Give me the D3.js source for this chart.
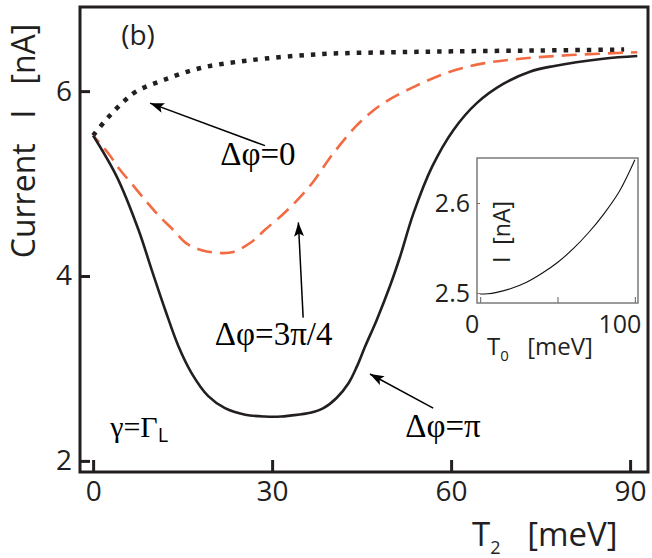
<!DOCTYPE html>
<html><head><meta charset="utf-8">
<script src="https://cdn.jsdelivr.net/npm/d3@7"></script>
<style>
html,body{margin:0;padding:0;background:#fff;}
svg{display:block;}
.sans{font-family:"Open Sans","Liberation Sans",sans-serif;}
.serif{font-family:"Liberation Serif","DejaVu Serif",serif;}
</style></head><body>
<svg id="c" width="652" height="558"></svg>
<script>
// ---- data ----
const xTicks = [0, 30, 60, 90];
const yTicks = [2, 4, 6];
// Δφ = 0 (dotted)
const t2Zero = [0, 2.3, 5, 7.3, 11.8, 18, 25.8, 38, 50, 60.3, 75, 89];
const iZero  = [5.52, 5.70, 5.88, 6.0, 6.12, 6.25, 6.33, 6.40, 6.42, 6.43, 6.44, 6.45];
// Δφ = 3π/4 (dashed)
const t2Q = [0, 2.5, 4.5, 6.7, 9.0, 10.9, 13.4, 15.7, 18.2, 21.0, 23.5, 26.6, 28.8, 31.5, 33.9, 36.9, 39.7, 43.9, 46.4, 48.9, 54.2, 59.8, 65.4, 71.6, 80, 91.2];
const iQ  = [5.52, 5.33, 5.15, 4.98, 4.80, 4.66, 4.50, 4.35, 4.28, 4.25, 4.26, 4.37, 4.50, 4.65, 4.80, 5.02, 5.28, 5.61, 5.76, 5.88, 6.06, 6.21, 6.30, 6.35, 6.39, 6.42];
// Δφ = π (solid)
const t2Pi = [0, 4, 7.6, 9.8, 12.1, 14.3, 16.5, 19.3, 22.1, 25.5, 28.8, 31.5, 33.0, 36.4, 38.6, 40.8, 42.8, 44.2, 45.6, 47.5, 49.8, 51.4, 53.7, 56.8, 60.4, 64.3, 68.8, 73.2, 77.1, 85.5, 91.2];
const iPi  = [5.52, 5.07, 4.50, 4.07, 3.63, 3.24, 2.95, 2.70, 2.57, 2.50, 2.48, 2.48, 2.49, 2.52, 2.57, 2.68, 2.84, 3.02, 3.24, 3.52, 3.90, 4.20, 4.68, 5.18, 5.58, 5.87, 6.08, 6.21, 6.27, 6.35, 6.38];
// inset
const insetXTicks = [0, 50, 100];
const insetXLabels = [0, 100];
const insetYTicks = [2.5, 2.6];
const t0 = [0, 5, 10, 20, 30, 40, 50, 60, 70, 80, 90, 100];
const iT0 = [2.499, 2.4993, 2.5005, 2.505, 2.512, 2.522, 2.534, 2.549, 2.567, 2.588, 2.613, 2.648];

const ink = "#231f20", orange = "#f26b43";
const svg = d3.select("#c");

// ---- main scales ----
const x = d3.scaleLinear().domain([-2.2, 93]).range([80, 648]);
const y = d3.scaleLinear().domain([1.88, 6.91]).range([472, 7]);

// axes
const gy = svg.append("g").attr("transform", `translate(80,0)`)
  .call(d3.axisLeft(y).tickValues(yTicks).tickFormat(d3.format("d")).tickSize(-10).tickSizeOuter(0).tickPadding(8));
const gx = svg.append("g").attr("transform", `translate(0,472)`)
  .call(d3.axisBottom(x).tickValues(xTicks).tickFormat(d3.format("d")).tickSize(-12).tickSizeOuter(0).tickPadding(9));
[gx, gy].forEach(g => {
  g.select(".domain").remove();
  g.selectAll(".tick line").attr("stroke", ink).attr("stroke-width", 3);
  g.selectAll(".tick text").attr("class", "sans").attr("fill", ink).style("font-size", "28px");
});
// frame
svg.append("rect").attr("x", 80).attr("y", 7).attr("width", 568).attr("height", 465)
  .attr("fill", "none").attr("stroke", ink).attr("stroke-width", 3);

// lines
const line = (xs, ys) => d3.line().x((d, i) => x(xs[i])).y(d => y(d)).curve(d3.curveCatmullRom.alpha(0.5))(ys);
svg.append("path").attr("d", line(t2Zero, iZero)).attr("fill", "none").attr("stroke", ink)
  .attr("stroke-width", 4.5).attr("stroke-dasharray", "4.5,7");
svg.append("path").attr("d", line(t2Q, iQ)).attr("fill", "none").attr("stroke", orange)
  .attr("stroke-width", 2.6).attr("stroke-dasharray", "15,8").attr("stroke-dashoffset", 6);
svg.append("path").attr("d", line(t2Pi, iPi)).attr("fill", "none").attr("stroke", ink)
  .attr("stroke-width", 2.6);

// arrow marker
svg.append("defs").append("marker").attr("id", "ah").attr("viewBox", "0 0 14 10")
  .attr("refX", 14).attr("refY", 5).attr("markerWidth", 14).attr("markerHeight", 10)
  .attr("markerUnits", "userSpaceOnUse").attr("orient", "auto")
  .append("path").attr("d", "M0,0 L14,5 L0,10 L3,5 Z").attr("fill", "#000");

const arrows = [
  {from: [28.8, 5.41], to: [9.55, 5.87]},
  {from: [35.2, 3.55], to: [34.4, 4.58]},
  {from: [57.0, 2.57], to: [46.4, 2.94]},
];
arrows.forEach(a => svg.append("line")
  .attr("x1", x(a.from[0])).attr("y1", y(a.from[1]))
  .attr("x2", x(a.to[0])).attr("y2", y(a.to[1]))
  .attr("stroke", "#000").attr("stroke-width", 1.5).attr("marker-end", "url(#ah)"));

const labels = [
  {t: "Δφ=0", at: [21.3, 5.2]},
  {t: "Δφ=3π/4", at: [20.4, 3.25]},
  {t: "Δφ=π", at: [52.3, 2.26]},
];
labels.forEach(l => svg.append("text").attr("class", "serif")
  .attr("x", x(l.at[0])).attr("y", y(l.at[1])).attr("fill", "#000")
  .style("font-size", "33px").text(l.t));

const gam = svg.append("text").attr("class", "serif").attr("x", x(2.85)).attr("y", y(2.26))
  .attr("fill", "#000").style("font-size", "30px");
gam.append("tspan").text("γ=Γ");
gam.append("tspan").attr("dy", 5).style("font-size", "20px").attr("class", "sans").text("L");

svg.append("text").attr("class", "sans").attr("x", x(4.7)).attr("y", y(6.5))
  .attr("fill", ink).style("font-size", "28px").text("(b)");

// axis titles
svg.append("text").attr("class", "sans").attr("fill", ink)
  .attr("transform", "translate(35,141) rotate(-90)").attr("text-anchor", "middle")
  .style("font-size", "32px").style("white-space", "pre").text("Current   I   [nA]");
const xl = svg.append("text").attr("class", "sans").attr("fill", ink).attr("x", 472).attr("y", 546)
  .style("font-size", "33px").style("white-space", "pre");
xl.append("tspan").text("T");
xl.append("tspan").attr("dy", 8).style("font-size", "18px").text("2");
xl.append("tspan").attr("dy", -8).attr("dx", 1).text("   [meV]");

// ---- inset ----
const ix = d3.scaleLinear().domain([-2, 102]).range([477, 638]);
const iy = d3.scaleLinear().domain([2.489, 2.65]).range([303, 158]);
const gray = "#7a7a7a";
svg.append("rect").attr("x", 477).attr("y", 158).attr("width", 161).attr("height", 145)
  .attr("fill", "#fff").attr("stroke", gray).attr("stroke-width", 1.5);
const igx = svg.append("g").attr("transform", "translate(0,303)")
  .call(d3.axisBottom(ix).tickValues(insetXTicks).tickSize(-6).tickSizeOuter(0).tickFormat(""));
igx.select(".domain").remove();
igx.selectAll(".tick line").attr("stroke", gray).attr("stroke-width", 1.2);
svg.append("g").selectAll("text").data(insetXLabels).join("text").attr("class", "sans")
  .attr("x", d => ix(d) - (d === 0 ? 8 : 15)).attr("y", 333).attr("text-anchor", "middle")
  .attr("fill", ink).style("font-size", "25px").text(d => d);
const igy = svg.append("g").attr("transform", "translate(477,0)")
  .call(d3.axisLeft(iy).tickValues(insetYTicks).tickSize(-3).tickSizeOuter(0).tickPadding(7).tickFormat(d3.format(".1f")));
igy.select(".domain").remove();
igy.selectAll(".tick line").attr("stroke", "#c0504d").attr("stroke-width", 1);
igy.selectAll(".tick text").attr("class", "sans").attr("fill", ink).style("font-size", "25px");
svg.append("path").attr("d", d3.line().x((d, i) => ix(t0[i])).y(d => iy(d)).curve(d3.curveCatmullRom.alpha(0.5))(iT0))
  .attr("fill", "none").attr("stroke", "#111").attr("stroke-width", 1.1);
svg.append("text").attr("class", "sans").attr("fill", ink)
  .attr("transform", "translate(510,232) rotate(-90)").attr("text-anchor", "middle")
  .style("font-size", "23px").style("white-space", "pre").text("I  [nA]");
const ixl = svg.append("text").attr("class", "sans").attr("fill", ink).attr("x", 487).attr("y", 355)
  .style("font-size", "24px").style("white-space", "pre");
ixl.append("tspan").text("T");
ixl.append("tspan").attr("dy", 6).style("font-size", "15px").text("0");
ixl.append("tspan").attr("dy", -6).attr("dx", 6).text("  [meV]");
</script>
</body></html>
